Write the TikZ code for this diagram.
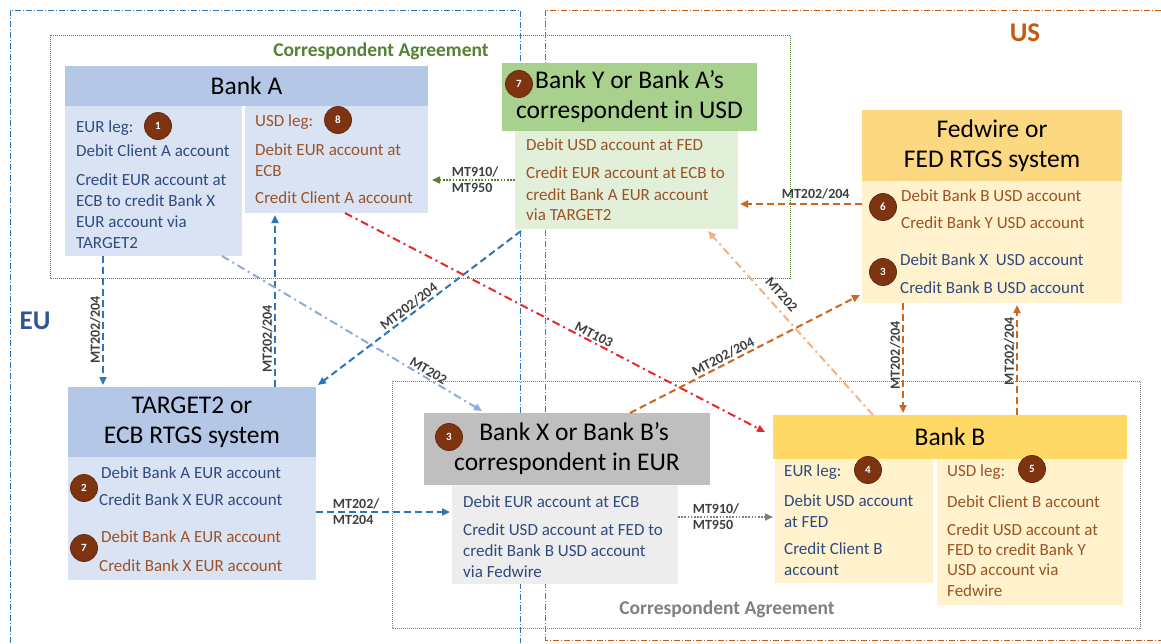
\documentclass[tikz,border=0pt]{standalone}
\usepackage{fontspec}
\setmainfont{Carlito}
\usetikzlibrary{arrows.meta,calc}
\definecolor{tblue}{HTML}{2F4A80}
\definecolor{tbrown}{HTML}{9C5226}
\definecolor{badge}{HTML}{7E3411}
\definecolor{lblue}{HTML}{B4C7E7}
\definecolor{llblue}{HTML}{DAE3F3}
\definecolor{hgreen}{HTML}{A9D18E}
\definecolor{bgreen}{HTML}{E2F0D9}
\definecolor{hyellow}{HTML}{FFD966}
\definecolor{fyellow}{HTML}{FCD880}
\definecolor{byellow}{HTML}{FFF2CC}
\definecolor{hgrey}{HTML}{BFBFBF}
\definecolor{bgrey}{HTML}{EDEDED}
\definecolor{ablue}{HTML}{2E75B6}
\definecolor{alblue}{HTML}{8FAADC}
\definecolor{ared}{HTML}{E8262B}
\definecolor{aorange}{HTML}{D0661C}
\definecolor{alorange}{HTML}{F4B183}
\definecolor{agreen}{HTML}{548235}
\definecolor{agrey}{HTML}{808080}
\definecolor{lbl}{HTML}{404040}
\definecolor{eublue}{HTML}{2F5597}
\definecolor{usorange}{HTML}{C55A11}
\tikzset{
  box/.style={anchor=north west, inner sep=0pt, outer sep=0pt, draw=none, align=center,
    font=\fontsize{25.5}{30}\selectfont},
  bt/.style={font=\fontsize{17}{20}\selectfont, anchor=west, inner sep=0pt, text height=11pt, text depth=3.5pt, yshift=-2pt},
  btb/.style={bt, text=tblue},
  btr/.style={bt, text=tbrown},
  num/.style={circle, fill=badge, draw=badge!80!black, line width=0.8pt, minimum size=27pt, inner sep=0pt,
    text=white, font=\fontsize{11}{12}\selectfont\bfseries},
  lab/.style={font=\fontsize{14}{16}\selectfont\bfseries, text=lbl, inner sep=1.5pt, align=left},
  tip/.style={-{Triangle[length=8pt,width=7pt]}},
  bdash/.style={tip, draw=ablue, line width=2pt, dash pattern=on 7pt off 4pt},
  odash/.style={tip, draw=aorange, line width=2pt, dash pattern=on 7pt off 4pt},
  lbdd/.style={tip, draw=alblue, line width=2pt, dash pattern=on 8pt off 4pt on 2pt off 4pt},
  rdd/.style={tip, draw=ared, line width=2pt, dash pattern=on 8pt off 4pt on 2pt off 4pt},
  lodd/.style={tip, draw=alorange, line width=2pt, dash pattern=on 8pt off 4pt on 2pt off 4pt},
  gdot/.style={tip, draw=agreen, line width=1.6pt, dash pattern=on 1.6pt off 1.6pt},
  ydot/.style={tip, draw=agrey, line width=1.6pt, dash pattern=on 1.6pt off 1.6pt},
  eureg/.style={draw=ablue, line width=0.9pt, dash pattern=on 6pt off 2pt on 1pt off 2pt},
  usreg/.style={draw=usorange, line width=0.9pt, dash pattern=on 6pt off 2pt on 1pt off 2pt},
  agrbox/.style={line width=0.9pt, dash pattern=on 1pt off 1pt},
  agrlab/.style={font=\fontsize{19.5}{22}\selectfont\bfseries, inner sep=0pt},
  reglab/.style={font=\fontsize{27}{30}\selectfont\bfseries, inner sep=0pt}
}
\begin{document}
\begin{tikzpicture}[x=1pt,y=-1pt]
\useasboundingbox[fill=white] (0,0) rectangle (1161,643);
% regions
\draw[eureg] (10,643) -- (10,10) -- (520,10) -- (520,643);
\draw[usreg] (1161,10) -- (545,10) -- (545,640) -- (1161,640);
\node[reglab, text=eublue] (eu) at (35,321) {EU};
\node[reglab, text=usorange] (us) at (1025,33) {US};
% correspondent agreements
\draw[agrbox, draw=agreen] (50,35) rectangle (790,278);
\node[agrlab, text=agreen] (gagrl) at (381,51) {Correspondent Agreement};
\draw[agrbox, draw=agrey] (392,381) rectangle (1140,628);
\node[agrlab, text=agrey] (yagrl) at (727,609) {Correspondent Agreement};

% ---- Bank A
\node[box, fill=lblue, minimum width=363pt, minimum height=40pt] (bankAh) at (65,66) {Bank A};
\node[box, fill=llblue, minimum width=177pt, minimum height=150pt] (bankAL) at (65,106) {};
\node[box, fill=llblue, minimum width=183pt, minimum height=107pt] (bankAR) at (245,106) {};
\node[btb] (a1) at (76,127) {EUR leg:};
\node[num] (n1) at (158,126) {1};
\node[btb] (a2) at (76,151) {Debit Client A account};
\node[btb] (a3) at (76,180) {Credit EUR account at};
\node[btb] (a4) at (76,201) {ECB to credit Bank X};
\node[btb] (a5) at (76,222) {EUR account via};
\node[btb] (a6) at (76,243) {TARGET2};
\node[btr] (a7) at (255,121) {USD leg:};
\node[num] (n8) at (338,120) {8};
\node[btr] (a8) at (255,150) {Debit EUR account at};
\node[btr] (a9) at (255,171) {ECB};
\node[btr] (a10) at (255,198) {Credit Client A account};

% ---- Bank Y
\node[box, fill=hgreen, minimum width=255pt, minimum height=68pt] (bankYh) at (502,63) {Bank Y or Bank A’s\\correspondent in USD};
\node[num] (n7y) at (519,84) {7};
\node[box, fill=bgreen, minimum width=223pt, minimum height=98pt] (bankYb) at (515,131) {};
\node[btr] (y1) at (526,145) {Debit USD account at FED};
\node[btr] (y2) at (526,173) {Credit EUR account at ECB to};
\node[btr] (y3) at (526,195) {credit Bank A EUR account};
\node[btr] (y4) at (526,215) {via TARGET2};

% ---- Fedwire
\node[box, fill=fyellow, minimum width=260pt, minimum height=71pt] (fedh) at (862,110) {Fedwire or\\FED RTGS system};
\node[box, fill=byellow, minimum width=260pt, minimum height=122pt] (fedb) at (862,181) {};
\node[num] (n6) at (883,207) {6};
\node[btr] (f1) at (901,196) {Debit Bank B USD account};
\node[btr] (f2) at (901,223) {Credit Bank Y USD account};
\node[num] (n3f) at (883,272) {3};
\node[btb] (f3) at (900,260) {Debit Bank X\ \ USD account};
\node[btb] (f4) at (900,288) {Credit Bank B USD account};

% ---- TARGET2
\node[box, fill=lblue, minimum width=248pt, minimum height=70pt] (t2h) at (68,387) {TARGET2 or\\ECB RTGS system};
\node[box, fill=llblue, minimum width=248pt, minimum height=123pt] (t2b) at (68,457) {};
\node[num] (n2) at (84,488) {2};
\node[btb] (t1) at (101,473) {Debit Bank A EUR account};
\node[btb] (t2) at (99,500) {Credit Bank X EUR account};
\node[num] (n7t) at (84,548) {7};
\node[btr] (t3) at (101,537) {Debit Bank A EUR account};
\node[btr] (t4) at (99,566) {Credit Bank X EUR account};

% ---- Bank X
\node[box, fill=hgrey, minimum width=286pt, minimum height=72pt] (bankXh) at (424,413) {\hspace*{14pt}Bank X or Bank B’s\\correspondent in EUR};
\node[num] (n3x) at (449,437) {3};
\node[box, fill=bgrey, minimum width=226pt, minimum height=99pt] (bankXb) at (452,485) {};
\node[btb] (x1) at (463,502) {Debit EUR account at ECB};
\node[btb] (x2) at (463,530) {Credit USD account at FED to};
\node[btb] (x3) at (463,551) {credit Bank B USD account};
\node[btb] (x4) at (463,572) {via Fedwire};

% ---- Bank B
\node[box, fill=hyellow, minimum width=354pt, minimum height=44pt] (bankBh) at (773,415) {Bank B};
\node[box, fill=byellow, minimum width=158pt, minimum height=124pt] (bankBL) at (775,459) {};
\node[box, fill=byellow, minimum width=186pt, minimum height=146pt] (bankBR) at (937,459) {};
\node[btb] (b1) at (784,471) {EUR leg:};
\node[num] (n4) at (868,470) {4};
\node[btb] (b2) at (784,501) {Debit USD account};
\node[btb] (b3) at (784,522) {at FED};
\node[btb] (b4) at (784,549) {Credit Client B};
\node[btb] (b5) at (784,570) {account};
\node[btr] (b6) at (947,471) {USD leg:};
\node[num] (n5) at (1032,469) {5};
\node[btr] (b7) at (947,502) {Debit Client B account};
\node[btr] (b8) at (947,530) {Credit USD account at};
\node[btr] (b9) at (947,550) {FED to credit Bank Y};
\node[btr] (b10) at (947,570) {USD account via};
\node[btr] (b11) at (947,591) {Fedwire};

% ---- connectors
\draw[bdash] ([xshift=38pt]bankAL.south west) -- ([xshift=35pt,yshift=2pt]t2h.north west)
  node[lab, rotate=90, anchor=south, pos=0.55, xshift=-3pt] {MT202/204};
\draw[bdash] ([xshift=207pt]t2h.north west) -- ([xshift=30pt,yshift=-2pt]bankAR.south west)
  node[lab, sloped, above, pos=0.28] {MT202/204};
\draw[bdash] ([xshift=6pt,yshift=-2pt]bankYb.south west) -- ([xshift=2pt,yshift=2pt]t2h.north east)
  node[lab, sloped, above, pos=0.53] {MT202/204};
\draw[lbdd] ([xshift=-20pt]bankAL.south east) -- ([xshift=58pt,yshift=2pt]bankXh.north west)
  node[lab, sloped, above, pos=0.78] {MT202};
\draw[rdd] ([xshift=100pt]bankAR.south west) -- ([xshift=-8pt,yshift=5pt]bankBh.west)
  node[lab, sloped, above, pos=0.585] {MT103};
\draw[gdot] (bankYb.west) -- ([xshift=4pt]bankYb.west -| bankAR.east)
  node[lab, pos=0.48] {MT910/\\MT950};
\draw[odash] ([yshift=38pt]fedb.west) -- ([yshift=38pt,xshift=2pt]fedb.west -| bankYb.east)
  node[lab, above, pos=0.38, yshift=2pt] {MT202/204};
\draw[odash] ([xshift=206pt]bankXh.north west) -- ([yshift=8pt,xshift=-2pt]fedb.south west)
  node[lab, sloped, above, pos=0.42] {MT202/204};
\draw[lodd] ([xshift=100pt]bankBh.north west) -- ([xshift=-30pt,yshift=-2pt]bankYb.south east)
  node[lab, sloped, above=5pt, pos=0.61] {MT202};
\draw[odash] ([xshift=41pt]fedb.south west) -- ([xshift=130pt,yshift=2pt]bankBh.north west)
  node[lab, rotate=90, anchor=south, pos=0.45, xshift=-3pt] {MT202/204};
\draw[odash] ([xshift=244pt]bankBh.north west) -- ([xshift=155pt,yshift=-2pt]fedb.south west)
  node[lab, sloped, above, pos=0.58] {MT202/204};
\draw[bdash] ([yshift=6.5pt]t2b.east) -- ([yshift=6.5pt,xshift=-2pt]t2b.east -| bankXb.west)
  node[lab, pos=0.3] {MT202/\\MT204};
\draw[ydot] ([yshift=17.5pt]bankXb.east) -- ([yshift=17.5pt,xshift=-2pt]bankXb.east -| bankBL.west)
  node[lab, pos=0.4] {MT910/\\MT950};
\end{tikzpicture}
\end{document}
